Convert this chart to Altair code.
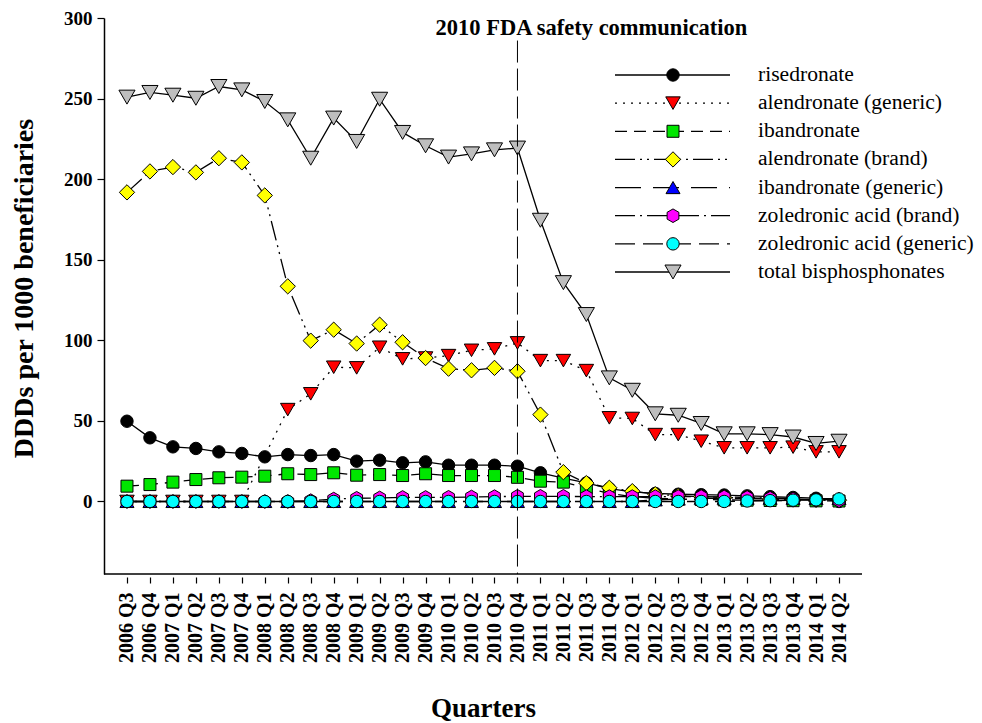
import altair as alt
import pandas as pd

# ---------------- data ----------------
quarters = [
    "2006 Q3", "2006 Q4",
    "2007 Q1", "2007 Q2", "2007 Q3", "2007 Q4",
    "2008 Q1", "2008 Q2", "2008 Q3", "2008 Q4",
    "2009 Q1", "2009 Q2", "2009 Q3", "2009 Q4",
    "2010 Q1", "2010 Q2", "2010 Q3", "2010 Q4",
    "2011 Q1", "2011 Q2", "2011 Q3", "2011 Q4",
    "2012 Q1", "2012 Q2", "2012 Q3", "2012 Q4",
    "2013 Q1", "2013 Q2", "2013 Q3", "2013 Q4",
    "2014 Q1", "2014 Q2",
]

series_names = [
    "risedronate",
    "alendronate (generic)",
    "ibandronate",
    "alendronate (brand)",
    "ibandronate (generic)",
    "zoledronic acid (brand)",
    "zoledronic acid (generic)",
    "total bisphosphonates",
]

risedronate = [49.8, 39.5, 33.9, 32.9, 30.8, 29.8, 27.7, 29.1, 28.5, 29.1, 25.0, 25.6,
               24.0, 24.6, 22.5, 22.5, 22.5, 21.9, 17.8, 14.5, 11.5, 8.0, 6.0, 5.0,
               4.5, 4.2, 4.0, 3.5, 3.0, 2.5, 2.0, 0.0]
alendronate_generic = [0.0, 0.0, 0.0, 0.0, 0.0, 0.0, None, 57.0, 66.8, 83.3, 82.9, 95.7,
                       88.5, 89.0, 90.5, 93.8, 94.7, 98.4, 87.4, 87.4, 81.2, 51.9, 51.5, 41.5,
                       41.5, 37.4, 33.3, 33.3, 33.3, 33.7, 30.8, 30.8]
ibandronate = [9.5, 10.5, 12.0, 13.6, 14.7, 15.1, 15.7, 17.2, 16.7, 17.8, 16.3, 16.7,
               16.1, 17.2, 16.1, 16.1, 16.1, 15.0, 12.6, 12.0, 8.5, 5.0, 3.0, 2.0,
               1.5, 1.2, 1.0, 0.8, 0.6, 0.5, 0.4, 0.3]
alendronate_brand = [191.8, 204.8, 207.5, 204.2, 213.0, 210.4, 189.9, 133.5, 99.8, 106.6, 98.0, 109.7,
                     98.8, 89.0, 82.4, 81.4, 82.9, 80.8, 53.9, 18.2, 11.4, 8.5, 6.4, 4.5,
                     3.5, 3.0, 2.5, 2.0, 1.5, 1.2, 1.0, 0.8]
ibandronate_generic = [0.0, 0.0, 0.0, 0.0, 0.0, 0.0, 0.0, 0.0, 0.0, 0.0, 0.0, 0.0,
                       0.0, 0.0, 0.0, 0.0, 0.0, 0.0, 0.0, 0.0, 0.0, 0.0, 0.0, 1.0,
                       1.5, 2.0, 2.0, 2.0, 2.0, 2.0, 1.8, 1.8]
zoledronic_brand = [0.0, 0.0, 0.0, 0.0, 0.0, 0.0, 0.0, 0.0, 0.5, 1.5, 2.0, 2.2,
                    2.5, 2.5, 2.6, 2.8, 3.0, 3.2, 3.2, 3.2, 3.0, 3.0, 3.0, 3.0,
                    3.0, 3.0, 2.8, 2.5, 2.0, 1.5, 1.0, 0.5]
zoledronic_generic = [0.0, 0.0, 0.0, 0.0, 0.0, 0.0, 0.0, 0.0, 0.0, 0.0, 0.0, 0.0,
                      0.0, 0.0, 0.0, 0.0, 0.0, 0.0, 0.0, 0.0, 0.0, 0.0, 0.0, 0.0,
                      0.0, 0.0, 0.0, 0.3, 0.5, 0.8, 1.0, 1.6]
total_bisphosphonates = [250.9, 253.8, 252.1, 250.2, 257.5, 255.4, 248.2, 236.8, 213.0, 237.9, 223.4, 249.6,
                         229.0, 220.7, 213.7, 215.7, 218.2, 219.3, 174.5, 135.8, 116.0, 76.7, 69.0, 54.4,
                         53.5, 48.4, 42.0, 42.0, 41.5, 40.0, 36.0, 37.4]

series_values = [risedronate, alendronate_generic, ibandronate, alendronate_brand,
                 ibandronate_generic, zoledronic_brand, zoledronic_generic, total_bisphosphonates]

fda_quarter = "2010 Q4"
fda_label = "2010 FDA safety communication"
fda_line_top = 286
fda_label_y = 294.5
y_ticks = [0, 50, 100, 150, 200, 250, 300]

# ---------------- styles ----------------
HEX = "M0,-1L0.866,-0.5L0.866,0.5L0,1L-0.866,0.5L-0.866,-0.5Z"
styles = [
    dict(dash=None, shape="circle", fill="#000000", size=154),
    dict(dash=[2, 6], shape="triangle-down", fill="#ff0000", size=210),
    dict(dash=[12, 7], shape="square", fill="#00e600", size=144),
    dict(dash=[20, 5, 2, 5, 2, 5], shape="diamond", fill="#ffff00", size=235),
    dict(dash=[26, 12], shape="triangle-up", fill="#0000ff", size=196),
    dict(dash=[20, 5, 2, 5], shape=HEX, fill="#ff00ff", size=185),
    dict(dash=[20, 8], shape="circle", fill="#00ffff", size=154),
    dict(dash=None, shape="triangle-down", fill="#bebebe", size=260),
]

W, H = 758, 556
Y_MIN, Y_MAX = -45, 300
FONT = "Liberation Serif"

x_enc = alt.X(
    "quarter:O",
    sort=quarters,
    scale=alt.Scale(type="point", padding=1, domain=quarters),
    axis=alt.Axis(
        title="Quarters", labelAngle=-90, labelFont=FONT, labelFontWeight="bold",
        labelFontSize=20, labelColor="black", labelPadding=9, labelOverlap=False,
        tickSize=6, tickColor="black", tickWidth=1.2, domain=False, offset=3,
        grid=False, titleFont=FONT, titleFontSize=27, titleFontWeight="bold",
        titleColor="black", titleBaseline="middle", titleY=131,
    ),
)
y_enc = alt.Y(
    "value:Q",
    scale=alt.Scale(domain=[Y_MIN, Y_MAX], nice=False, zero=False),
    axis=alt.Axis(
        values=y_ticks, title="DDDs per 1000 beneficiaries", labelFont=FONT,
        labelFontWeight="bold", labelFontSize=19, labelColor="black", labelPadding=5,
        tickSize=7, tickColor="black", tickWidth=1.2, domainColor="black", domainWidth=1.5,
        grid=False, titleFont=FONT, titleFontSize=28, titleFontWeight="bold",
        titleColor="black", titleX=-80, titleY=270, titleAlign="center",
        titleBaseline="middle",
    ),
)

main_layers = []
for name, vals, st in zip(series_names, series_values, styles):
    # quarters without a value are skipped so the line joins its neighbours
    df = pd.DataFrame({"quarter": quarters, "value": vals, "series": name}).dropna()
    line_kw = dict(color="black", strokeWidth=1.3)
    if st["dash"] is not None:
        line_kw["strokeDash"] = st["dash"]
    main_layers.append(alt.Chart(df).mark_line(**line_kw).encode(x=x_enc, y=y_enc))
    main_layers.append(
        alt.Chart(df).mark_point(
            shape=st["shape"], filled=True, fill=st["fill"], stroke="black",
            strokeWidth=1, size=st["size"], opacity=1,
        ).encode(x=x_enc, y=y_enc)
    )

fda_df = pd.DataFrame({"quarter": [fda_quarter], "value": [fda_line_top], "bottom": [Y_MIN]})
fda_rule = alt.Chart(fda_df).mark_rule(color="black", strokeWidth=1, strokeDash=[22, 6]).encode(
    x=x_enc, y=y_enc, y2="bottom:Q"
)
fda_text_df = pd.DataFrame({"quarter": [fda_quarter], "value": [fda_label_y], "label": [fda_label]})
fda_text = alt.Chart(fda_text_df).mark_text(
    font=FONT, fontWeight="bold", fontSize=22.5, dx=74, dy=1, align="center", baseline="middle",
    color="black"
).encode(x=x_enc, y=y_enc, text="label:N")

frame_df = pd.DataFrame({"a": [0]})
bottom_line = alt.Chart(frame_df).mark_rule(color="black", strokeWidth=1.5).encode(
    x=alt.value(0), x2=alt.value(W), y=alt.value(H)
)

main = alt.layer(*main_layers, fda_rule, fda_text, bottom_line)

# ---------------- manual legend ----------------
leg_df = pd.DataFrame({"row": list(range(len(series_names))), "name": series_names})
leg_y = alt.Y("row:Q", scale=alt.Scale(domain=[0, len(series_names) - 1], range=[57, 254]), axis=None)
legend_layers = []
for i, st in enumerate(styles):
    row_df = leg_df[leg_df["row"] == i]
    rule_kw = dict(color="black", strokeWidth=1.3)
    if st["dash"] is not None:
        rule_kw["strokeDash"] = st["dash"]
    legend_layers.append(
        alt.Chart(row_df).mark_rule(**rule_kw).encode(x=alt.value(511), x2=alt.value(626), y=leg_y)
    )
    legend_layers.append(
        alt.Chart(row_df).mark_point(
            shape=st["shape"], filled=True, fill=st["fill"], stroke="black",
            strokeWidth=1, size=st["size"], opacity=1,
        ).encode(x=alt.value(569), y=leg_y)
    )
legend_layers.append(
    alt.Chart(leg_df).mark_text(
        font=FONT, fontSize=21.6, align="left", baseline="middle", color="black"
    ).encode(x=alt.value(654), y=leg_y, text="name:N")
)
legend = alt.layer(*legend_layers)

chart = (
    alt.layer(main, legend)
    .resolve_scale(y="independent")
    .properties(
        width=W, height=H,
        padding={"left": 96, "top": 10, "right": 112, "bottom": 149},
        autosize=alt.AutoSizeParams(type="none"),
        background="white",
    )
    .configure_view(stroke=None)
)

chart.save("out.html", embed_options={"renderer": "svg", "actions": False})
